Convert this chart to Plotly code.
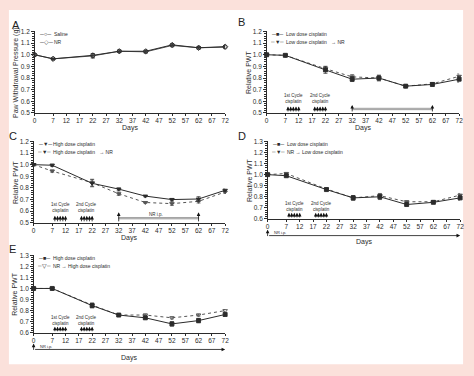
import plotly.graph_objects as go

W, H = 474, 376

days = [0, 7, 22, 32, 42, 52, 62, 72]
xtick_vals = [0, 7, 12, 17, 22, 27, 32, 37, 42, 47, 52, 57, 62, 67, 72]

# Panel A
a_saline = [1.00, 0.965, 0.99, 1.03, 1.025, 1.08, 1.06, 1.065]
a_saline_err = [0.01, 0.006, 0.02, 0.01, 0.01, 0.01, 0.01, 0.01]
a_nr = [1.00, 0.965, 0.995, 1.03, 1.03, 1.085, 1.06, 1.07]
a_nr_err = [0.01, 0.006, 0.015, 0.01, 0.01, 0.01, 0.01, 0.01]
# Panel B
b_low = [1.00, 0.995, 0.87, 0.79, 0.80, 0.73, 0.745, 0.79]
b_low_err = [0.01, 0.01, 0.03, 0.02, 0.025, 0.01, 0.015, 0.025]
b_low_nr = [1.00, 0.995, 0.88, 0.81, 0.80, 0.73, 0.75, 0.815]
b_low_nr_err = [0.01, 0.01, 0.02, 0.02, 0.02, 0.01, 0.01, 0.02]
# Panel C
c_high = [1.00, 0.995, 0.84, 0.79, 0.73, 0.70, 0.705, 0.78]
c_high_err = [0.01, 0.01, 0.03, 0.01, 0.006, 0.01, 0.02, 0.01]
c_high_nr = [1.00, 0.945, 0.845, 0.75, 0.675, 0.665, 0.685, 0.765]
c_high_nr_err = [0.01, 0.01, 0.03, 0.015, 0.006, 0.015, 0.015, 0.01]
# Panel D
d_low = [1.00, 0.99, 0.865, 0.79, 0.80, 0.73, 0.75, 0.79]
d_low_err = [0.01, 0.01, 0.01, 0.02, 0.025, 0.01, 0.01, 0.02]
d_nr_low = [1.00, 1.01, 0.87, 0.79, 0.81, 0.755, 0.755, 0.815]
d_nr_low_err = [0.01, 0.01, 0.01, 0.02, 0.02, 0.01, 0.01, 0.015]
# Panel E
e_high = [1.00, 1.00, 0.845, 0.76, 0.735, 0.68, 0.71, 0.765]
e_high_err = [0.01, 0.006, 0.02, 0.01, 0.01, 0.02, 0.02, 0.015]
e_nr_high = [1.00, 1.00, 0.85, 0.76, 0.76, 0.735, 0.76, 0.80]
e_nr_high_err = [0.01, 0.006, 0.02, 0.01, 0.01, 0.01, 0.01, 0.01]

cycle1_days = [8, 9, 10, 11, 12]
cycle2_days = [18, 19, 20, 21, 22]
nr_days = [32, 62]

FONT = "Liberation Sans, Arial, sans-serif"
DARK = "#2b2b2b"
GREY = "#555555"

def fx(px):
    return px / W

def fy(py):
    return 1 - py / H

# panel geometry in pixels: x0, x1, ytop, ybottom, yrange
panels = {
    "A": dict(ax=1, x=(33, 226), y=(28, 111), yr=(0.5, 1.2)),
    "B": dict(ax=2, x=(268, 463), y=(28, 111), yr=(0.5, 1.2)),
    "C": dict(ax=3, x=(32, 226), y=(140, 223), yr=(0.5, 1.2)),
    "D": dict(ax=4, x=(269, 464), y=(140, 219), yr=(0.6, 1.3)),
    "E": dict(ax=5, x=(32, 226), y=(256, 335), yr=(0.6, 1.3)),
}

fig = go.Figure()

def axname(n, kind):
    return kind if n == 1 else f"{kind}{n}"

def add_series(n, yv, err, symbol, dash, color, name):
    fig.add_trace(go.Scatter(
        x=days, y=yv, mode="lines+markers", name=name,
        xaxis=axname(n, "x"), yaxis=axname(n, "y"),
        line=dict(color=color, width=1, dash=dash),
        marker=dict(symbol=symbol, size=4, color=color,
                    line=dict(color=color, width=0.9)),
        error_y=dict(type="data", array=err, color=color, thickness=0.7, width=2),
        cliponaxis=False, showlegend=False,
    ))

add_series(1, a_saline, a_saline_err, "circle-open", "solid", GREY, "Saline")
add_series(1, a_nr, a_nr_err, "diamond-open", "solid", DARK, "NR")
add_series(2, b_low_nr, b_low_nr_err, "triangle-down", "dot", GREY, "Low dose cisplatin → NR")
add_series(2, b_low, b_low_err, "square", "solid", DARK, "Low dose cisplatin")
add_series(3, c_high_nr, c_high_nr_err, "triangle-down", "dot", GREY, "High dose cisplatin → NR")
add_series(3, c_high, c_high_err, "triangle-down", "solid", DARK, "High dose cisplatin")
add_series(4, d_nr_low, d_nr_low_err, "triangle-down", "dot", GREY, "NR → Low dose cisplatin")
add_series(4, d_low, d_low_err, "square", "solid", DARK, "Low dose cisplatin")
add_series(5, e_nr_high, e_nr_high_err, "triangle-down-open", "dot", GREY, "NR → High dose cisplatin")
add_series(5, e_high, e_high_err, "square", "solid", DARK, "High dose cisplatin")

layout = dict(
    width=W, height=H, margin=dict(l=0, r=0, t=0, b=0),
    paper_bgcolor="#fbe1db", plot_bgcolor="rgba(0,0,0,0)",
    font=dict(family=FONT, size=7, color=DARK),
    showlegend=False,
)

annotations = []
shapes = [dict(type="rect", xref="paper", yref="paper", layer="below",
               x0=fx(7), x1=fx(467), y0=fy(367), y1=fy(6),
               fillcolor="white", line=dict(width=0))]

ytitles = {"A": "Paw Withdrawal Pressure (g)", "B": "Relative PWT", "C": "Relative PWT",
           "D": "Relative PWT", "E": "Relative PWT"}
days_title_y = {"A": 126, "B": 126, "C": 238, "D": 243, "E": 361}
letter_pos = {"A": (14, 21), "B": (243, 18), "C": (11, 135), "D": (243, 135), "E": (11, 250)}

for key, p in panels.items():
    n = p["ax"]
    xa = "xaxis" if n == 1 else f"xaxis{n}"
    ya = "yaxis" if n == 1 else f"yaxis{n}"
    layout[xa] = dict(
        domain=[fx(p["x"][0]), fx(p["x"][1])], range=[0, 72],
        anchor=axname(n, "y"), tickvals=xtick_vals, ticks="outside", ticklen=2,
        tickwidth=1, tickcolor=DARK, showline=True, linecolor=DARK, linewidth=1,
        showgrid=False, zeroline=False, tickfont=dict(size=6.5), fixedrange=True,
        ticklabelstandoff=-1,
    )
    lo, hi = p["yr"]
    layout[ya] = dict(
        domain=[fy(p["y"][1]), fy(p["y"][0])], range=[lo, hi],
        anchor=axname(n, "x"), dtick=0.1, tick0=0, tickformat=".1f",
        ticks="outside", ticklen=2.5, tickwidth=1, tickcolor=DARK,
        minor=dict(ticks="outside", ticklen=1.2, dtick=0.02, tickcolor=DARK, tickwidth=0.6),
        showline=True, linecolor=DARK, linewidth=1, showgrid=False, zeroline=False,
        tickfont=dict(size=6.5), fixedrange=True,
    )
    # titles
    annotations.append(dict(text="Days", xref="paper", yref="paper",
                            x=fx((p["x"][0] + p["x"][1]) / 2), y=fy(days_title_y[key]),
                            showarrow=False, font=dict(size=7), xanchor="center", yanchor="middle"))
    annotations.append(dict(text=ytitles[key], xref="paper", yref="paper", textangle=-90,
                            x=fx(p["x"][0] - 19), y=fy((p["y"][0] + p["y"][1]) / 2),
                            showarrow=False, font=dict(size=7), xanchor="center", yanchor="middle"))
    lx, ly = letter_pos[key]
    annotations.append(dict(text=key, xref="paper", yref="paper", x=fx(lx), y=fy(ly),
                            showarrow=False, font=dict(size=11, color="#222"),
                            xanchor="center", yanchor="middle"))

# legends (text symbols)
legends = {
    "A": [("─○─", "Saline"), ("─◇─", "NR")],
    "B": [("─■─", "Low dose cisplatin"), ("┄▼┄", "Low dose cisplatin   → NR")],
    "C": [("─▼─", "High dose cisplatin"), ("┄▼┄", "High dose cisplatin   → NR")],
    "D": [("─■─", "Low dose cisplatin"), ("┄▼┄", "NR → Low dose cisplatin")],
    "E": [("─■─", "High dose cisplatin"), ("┄▽┄", "NR → High dose cisplatin")],
}
for key, items in legends.items():
    p = panels[key]
    x0 = p["x"][0]
    ytop = p["y"][0] + 3
    for i, (sym, label) in enumerate(items):
        yy = ytop + i * 7.5
        annotations.append(dict(text=sym, xref="paper", yref="paper", x=fx(x0 + 2), y=fy(yy),
                                showarrow=False, font=dict(size=5.5, color=DARK),
                                xanchor="left", yanchor="middle"))
        annotations.append(dict(text=label, xref="paper", yref="paper", x=fx(x0 + 18), y=fy(yy),
                                showarrow=False, font=dict(size=5, color=DARK),
                                xanchor="left", yanchor="middle"))

def up_arrow(n, day, y0, y1, yref=None, ayref=None):
    annotations.append(dict(
        x=day, y=y1, ax=day, ay=y0, xref=axname(n, "x"), yref=yref or axname(n, "y"),
        axref=axname(n, "x"), ayref=ayref or axname(n, "y"), text="", showarrow=True,
        arrowhead=2, arrowsize=0.9, arrowwidth=0.8, arrowcolor="#111", standoff=0,
        startstandoff=0))

cycle_info = {"B": (0.5, 0.555, 0.625), "C": (0.5, 0.56, 0.635),
              "D": (0.6, 0.655, 0.71), "E": (0.6, 0.655, 0.71)}
for key, (base, tip, lab) in cycle_info.items():
    n = panels[key]["ax"]
    for dd in cycle1_days + cycle2_days:
        up_arrow(n, dd, base, tip)
    for label, dl in (("1st Cycle<br>cisplatin", cycle1_days), ("2nd Cycle<br>cisplatin", cycle2_days)):
        annotations.append(dict(text=label, x=sum(dl) / len(dl), y=lab,
                                xref=axname(n, "x"), yref=axname(n, "y"),
                                showarrow=False, font=dict(size=4.5, color=DARK),
                                xanchor="center", yanchor="middle"))

# NR i.p. bar (B, C)
for key, (tip, bar) in {"B": (0.568, 0.534), "C": (0.59, 0.54)}.items():
    n = panels[key]["ax"]
    for dd in nr_days:
        up_arrow(n, dd, 0.5, tip)
    shapes.append(dict(type="rect", xref=axname(n, "x"), yref=axname(n, "y"),
                       x0=nr_days[0], x1=nr_days[1], y0=bar - 0.006, y1=bar + 0.006,
                       fillcolor="#d0d0d0", line=dict(color="#777", width=0.6)))
annotations.append(dict(text="NR i.p.", x=(nr_days[0] + nr_days[1]) / 2 - 1, y=0.575,
                        xref="x3", yref="y3", showarrow=False,
                        font=dict(size=4.5, color=DARK)))

# NR i.p. from day 0 (D, E) below axis
for key in ("D", "E"):
    p = panels[key]
    n = p["ax"]
    h = p["y"][1] - p["y"][0]
    yline = -(17 / h)
    annotations.append(dict(x=72, y=yline, ax=0, ay=yline, xref=axname(n, "x"),
                            yref=axname(n, "y") + " domain", axref=axname(n, "x"),
                            ayref=axname(n, "y") + " domain", text="", showarrow=True,
                            arrowhead=2, arrowsize=0.9, arrowwidth=0.8, arrowcolor="#111",
                            standoff=0, startstandoff=0))
    annotations.append(dict(x=0, y=yline + 6 / h, ax=0, ay=yline - 2 / h, xref=axname(n, "x"),
                            yref=axname(n, "y") + " domain", axref=axname(n, "x"),
                            ayref=axname(n, "y") + " domain", text="", showarrow=True,
                            arrowhead=2, arrowsize=0.9, arrowwidth=0.8, arrowcolor="#111",
                            standoff=0, startstandoff=0))
    annotations.append(dict(text="NR i.p.", x=1.5, y=yline + 3 / h, xref=axname(n, "x"),
                            yref=axname(n, "y") + " domain", showarrow=False,
                            font=dict(size=4, color=DARK), xanchor="left", yanchor="middle"))

layout["annotations"] = annotations
layout["shapes"] = shapes
fig.update_layout(**layout)
fig.write_html("out.html", config={"displayModeBar": False},
               post_script="document.body.style.margin='0';document.body.style.overflow='hidden';")
